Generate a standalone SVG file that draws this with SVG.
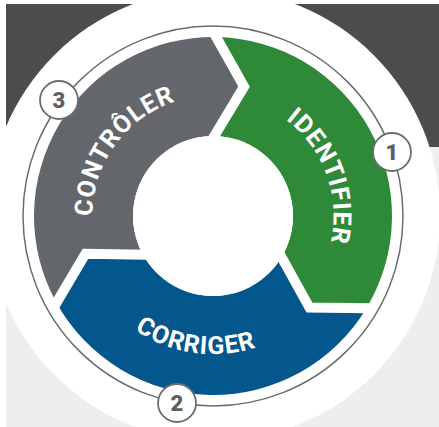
<svg xmlns="http://www.w3.org/2000/svg" xmlns:xlink="http://www.w3.org/1999/xlink" width="439" height="427" viewBox="0 0 439 427">
  <style>
    .sep { fill: none; stroke: #ffffff; stroke-width: 10; stroke-linejoin: miter; stroke-linecap: square; }
    .lbl { font-family: Roboto, "Open Sans", "Liberation Sans", sans-serif; font-weight: 700; font-size: 25px; fill: #ffffff; letter-spacing: 1px; }
    .badge circle { fill: #ffffff; stroke: #6b6d70; stroke-width: 1.8; }
    .badge text { font-family: Roboto, "Open Sans", "Liberation Sans", sans-serif; font-weight: 900; font-size: 22px; fill: #5d6063; text-anchor: middle; }
  </style>
  <defs>
    <path id="arcIdent" d="M 173.77 102.06 A 120.5 120.5 0 0 1 256.18 328.50"/>
    <path id="arcCtrl" d="M 140.48 312.24 A 120.5 120.5 0 0 1 282.12 117.29"/>
    <path id="arcCorr" d="M 75.54 199.12 A 138.5 138.5 0 0 0 349.79 237.67"/>
  </defs>

  <!-- background -->
  <rect x="6" y="4" width="433" height="143" fill="#4b4c4e"/>
  <rect x="6" y="147" width="433" height="280" fill="#eeeeee"/>
  <circle cx="214" cy="215" r="226" fill="#ffffff"/>

  <!-- ring -->
  <circle cx="213" cy="216" r="190" fill="none" stroke="#6b6d70" stroke-width="1.5"/>

  <g id="identifier">
    <path d="M 216.12 37.03 A 179 179 0 0 1 366.43 308.19 L 309.47 307.55 L 281.57 257.20 A 80 80 0 0 0 214.40 136.01 L 244.05 86.67 Z" fill="#2e8a39"/>
    <text class="lbl"><textPath href="#arcIdent" startOffset="50%" text-anchor="middle">IDENTIFIER</textPath></text>
  </g>
  <g id="corriger">
    <path d="M 366.43 308.19 A 179 179 0 0 1 56.44 302.78 L 85.48 253.77 L 143.03 254.78 A 80 80 0 0 0 281.57 257.20 L 309.47 307.55 Z" fill="#03578c"/>
    <text class="lbl"><textPath href="#arcCorr" startOffset="50%" text-anchor="middle">CORRIGER</textPath></text>
  </g>
  <g id="controler">
    <path d="M 56.44 302.78 A 179 179 0 0 1 216.12 37.03 L 244.05 86.67 L 214.40 136.01 A 80 80 0 0 0 143.03 254.78 L 85.48 253.77 Z" fill="#63676b"/>
    <text class="lbl"><textPath href="#arcCtrl" startOffset="50%" text-anchor="middle">CONTRÔLER</textPath></text>
  </g>

  <g id="connectors">
    <polyline class="sep" points="216.12,37.03 244.05,86.67 214.40,136.01"/>
    <polyline class="sep" points="366.43,308.19 309.47,307.55 281.57,257.20"/>
    <polyline class="sep" points="56.44,302.78 85.48,253.77 143.03,254.78"/>
  </g>

  <circle cx="213" cy="216" r="80" fill="#ffffff"/>

  <g id="badge1" class="badge">
    <circle cx="392" cy="152" r="19"/>
    <text x="392" y="160">1</text>
  </g>
  <g id="badge2" class="badge">
    <circle cx="177" cy="403" r="19"/>
    <text x="177" y="411">2</text>
  </g>
  <g id="badge3" class="badge">
    <circle cx="59" cy="100" r="19"/>
    <text x="59" y="108">3</text>
  </g>
</svg>
